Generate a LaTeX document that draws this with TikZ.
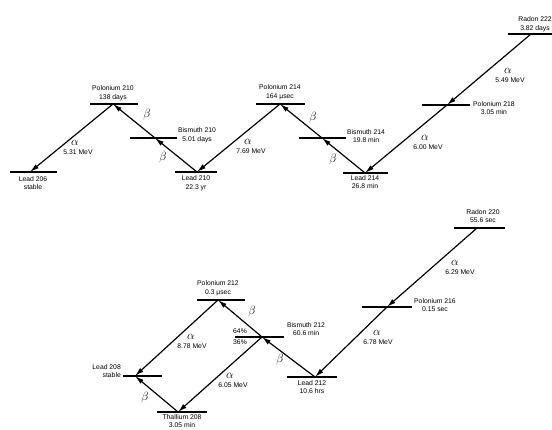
\documentclass[tikz,border=0pt]{standalone}
\usepackage{fontspec}
\setmainfont{Liberation Sans}
\usetikzlibrary{arrows.meta}

\tikzset{
  level/.style={line width=1.3pt},
  decay/.style={line width=1.2pt, -{Latex[length=9pt,width=5pt]}},
  lab/.style={font=\fontsize{6.8}{8.5}\selectfont, align=center, inner sep=0pt},
  sym/.style={font=\fontsize{13}{13}\selectfont, inner sep=0pt},
}

\begin{document}
\begin{tikzpicture}[x=1pt, y=-1pt]
  \useasboundingbox (0,0) rectangle (552,430);

  % Energy levels: name/x/y/left/right
  \foreach \n/\x/\y/\a/\b in {rn222/531/34/23/30, po218/447/105/25/23,
      pb214/365/173/22/23, bi214/322/138/23/24, po214/280/104/24/25,
      pb210/197/172/22/20, bi210/155/138/25/22, po210/113/104/23/25,
      pb206/30/172/20/27,
      rn220/477/228/23/28, po216/387/307/25/25, pb212/315/377/28/22,
      bi212/262/337/27/22, po212/218/300/21/27, pb208/135/376/12/27,
      tl208/178/412/21/29} {
    \coordinate (\n) at (\x,\y);
    \draw[level] (\x-\a,\y) -- (\x+\b,\y);
  }

  % Uranium / radon 222 chain
  \node[lab] (rn222t) at (535,24) {Radon 222\\3.82 days};
  \node[lab, anchor=west] (po218t) at (473,108) {Polonium 218\\3.05 min};
  \node[lab, anchor=west] (bi214t) at (347,136) {Bismuth 214\\19.8 min};
  \node[lab] (pb214t) at (365,182) {Lead 214\\26.8 min};
  \node[lab] (po214t) at (280,92) {Polonium 214\\164 µsec};
  \node[lab, anchor=west] (bi210t) at (178,135) {Bismuth 210\\5.01 days};
  \node[lab] (pb210t) at (196,183) {Lead 210\\22.3 yr};
  \node[lab] (po210t) at (113,93) {Polonium 210\\138 days};
  \node[lab] (pb206t) at (33,183) {Lead 206\\stable};

  \draw[decay] (rn222) -- (po218);
  \draw[decay] (po218) -- (pb214);
  \draw[decay] (pb214) -- (bi214);
  \draw[decay] (bi214) -- (po214);
  \draw[decay] (po214) -- (pb210);
  \draw[decay] (pb210) -- (bi210);
  \draw[decay] (bi210) -- (po210);
  \draw[decay] (po210) -- (pb206);

  \node[sym] (a1) at (508,71) {$\alpha$};
  \node[lab] (e1) at (510,80) {5.49 MeV};
  \node[sym] (a2) at (425,138) {$\alpha$};
  \node[lab] (e2) at (428,147) {6.00 MeV};
  \node[sym] (a3) at (248,142) {$\alpha$};
  \node[lab] (e3) at (251,151) {7.69 MeV};
  \node[sym] (a4) at (75,143) {$\alpha$};
  \node[lab] (e4) at (78,152) {5.31 MeV};
  \node[sym] (b1) at (313,118) {$\beta$};
  \node[sym] (b2) at (333,160) {$\beta$};
  \node[sym] (b3) at (147,115) {$\beta$};
  \node[sym] (b4) at (163,158) {$\beta$};

  % Thorium / radon 220 chain
  \node[lab] (rn220t) at (483,216) {Radon 220\\55.6 sec};
  \node[lab, anchor=west] (po216t) at (414,305) {Polonium 216\\0.15 sec};
  \node[lab, anchor=west] (bi212t) at (287,329) {Bismuth 212\\60.6 min};
  \node[lab] (pb212t) at (312,387) {Lead 212\\10.6 hrs};
  \node[lab] (po212t) at (218,288) {Polonium 212\\0.3 µsec};
  \node[lab, anchor=east, align=right] (pb208t) at (121,371) {Lead 208\\stable};
  \node[lab, font=\fontsize{6.8}{7.5}\selectfont, anchor=north] (tl208t)
    at (182,414.5) {Thallium 208\\3.05 min};

  \draw[decay] (rn220) -- (po216);
  \draw[decay] (po216) -- (pb212);
  \draw[decay] (pb212) -- (bi212);
  \draw[decay] (bi212) -- (po212);
  \draw[decay] (po212) -- (pb208);
  \draw[decay] (bi212) -- (tl208);
  \draw[decay] (tl208) -- (pb208);

  \node[sym] (a5) at (455,263) {$\alpha$};
  \node[lab] (e5) at (460,272) {6.29 MeV};
  \node[sym] (a6) at (377,333) {$\alpha$};
  \node[lab] (e6) at (378,342) {6.78 MeV};
  \node[sym] (a7) at (191,337) {$\alpha$};
  \node[lab] (e7) at (192,346) {8.78 MeV};
  \node[sym] (a8) at (230,376) {$\alpha$};
  \node[lab] (e8) at (233,385) {6.05 MeV};
  \node[sym] (b5) at (252,312) {$\beta$};
  \node[sym] (b6) at (280,360) {$\beta$};
  \node[sym] (b7) at (145,398) {$\beta$};
  \node[lab] (p64) at (240,331) {64\%};
  \node[lab] (p36) at (240,342) {36\%};
\end{tikzpicture}
\end{document}
